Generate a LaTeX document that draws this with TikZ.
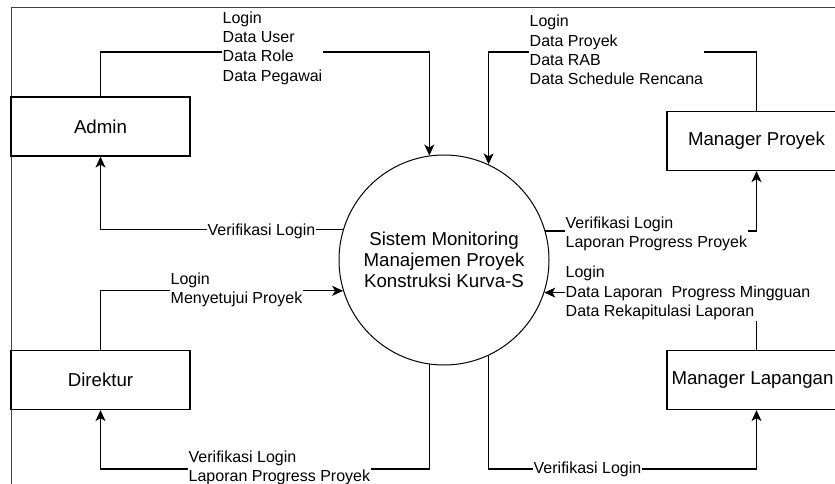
\documentclass[tikz,border=0pt]{standalone}
\usepackage{fontspec}
\setmainfont{Liberation Sans}
\usetikzlibrary{arrows.meta,calc}
\begin{document}
\begin{tikzpicture}[x=1pt,y=-1pt,
  entity/.style={draw, line width=1.2pt, minimum width=179pt, minimum height=59pt,
    inner sep=0pt, font=\fontsize{18.67}{21}\selectfont},
  process/.style={draw, circle, line width=1pt, minimum size=210pt, inner sep=0pt,
    align=center, font=\fontsize{18.67}{21}\selectfont},
  flow/.style={line width=1.2pt, -{Stealth[length=11pt,width=10pt,inset=3pt]}},
  frame/.style={line width=1pt, draw=black!75},
  lbl/.style={fill=white, inner xsep=0.5pt, inner ysep=1pt, anchor=west, align=left,
    font=\fontsize{16}{19.4}\selectfont}]
\useasboundingbox (0,0) rectangle (835,484);
\clip (0,0) rectangle (835,484);

% outer frame (top and left edges)
\draw[frame] (11,7.5) -- (860,7.5);
\draw[frame] (11,7.5) -- (11,500);

% external entities and the process
\node[entity] (admin) at (100.5,126.5) {Admin};
\node[entity] (mp)    at (756.5,141)   {Manager Proyek};
\node[entity] (dir)   at (100.5,380)   {Direktur};
\node[entity] (ml)    at (756.5,380)   {Manager Lapangan\hspace*{8pt}};
\node[process] (sys)  at (444,260) {Sistem Monitoring\\Manajemen Proyek\\Konstruksi Kurva-S};

% routing levels
\coordinate (toplvl) at (0,52);
\coordinate (botlvl) at (0,469);

% data flows
\draw[flow] (admin.north) -- (admin.north |- toplvl) -| (sys.98.2);
\draw[flow] (mp.north) -- (mp.north |- toplvl) -| (sys.65.2);
\draw[flow] (sys.163.4) -| (admin.south);
\draw[flow] (sys.16.6) -| (mp.south);
\draw[flow] (dir.north) |- (sys.197.2);
\draw[flow] (ml.north) |- (sys.342.8);
\draw[flow] (sys.-98.2) -- (sys.-98.2 |- botlvl) -| (dir.south);
\draw[flow] (sys.-65.2) -- (sys.-65.2 |- botlvl) -| (ml.south);

% flow labels
\node[lbl] (lA)   at (222,48)  {Login\\Data User\\Data Role\\Data Pegawai};
\node[lbl] (lMP)  at (529,50)  {Login\\Data Proyek\\Data RAB\\Data Schedule Rencana};
\node[lbl] (lAv)  at (207,231) {Verifikasi Login};
\node[lbl] (lMPv) at (565,234) {Verifikasi Login\\Laporan Progress Proyek};
\node[lbl] (lML)  at (565,293) {Login\\Data Laporan\ \ Progress Mingguan\\Data Rekapitulasi Laporan};
\node[lbl] (lD)   at (170,290) {Login\\Menyetujui Proyek};
\node[lbl] (lDv)  at (188,468) {Verifikasi Login\\Laporan Progress Proyek};
\node[lbl] (lMLv) at (533,469) {Verifikasi Login};
\end{tikzpicture}
\end{document}
